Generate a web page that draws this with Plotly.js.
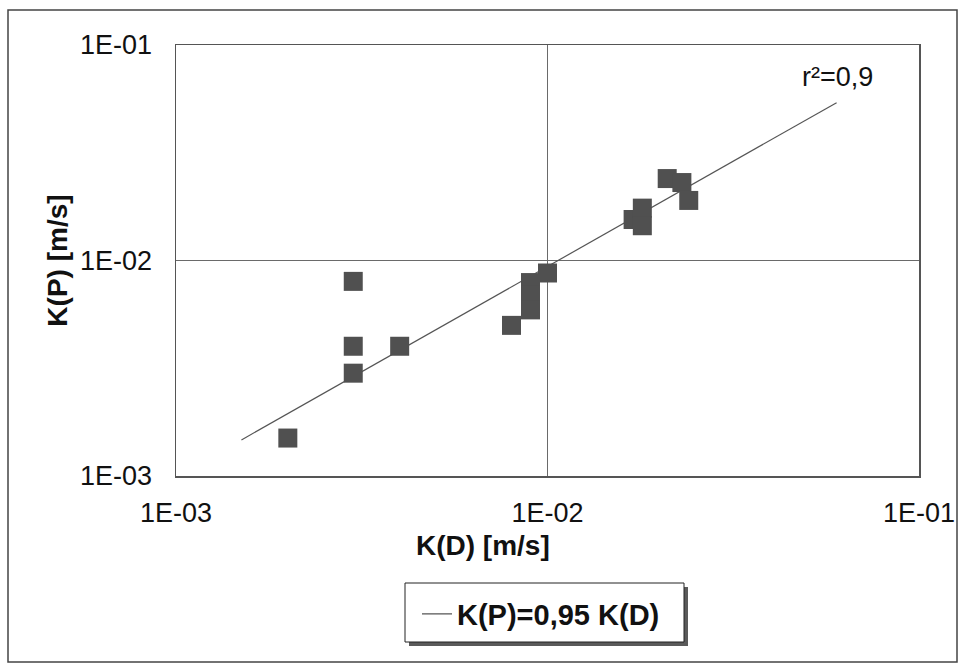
<!DOCTYPE html>
<html>
<head>
<meta charset="utf-8">
<script src="https://cdn.plot.ly/plotly-3.0.1.min.js"></script>
<style>
  html, body { margin: 0; padding: 0; background: #fff; }
  #chart { width: 968px; height: 664px; }
</style>
</head>
<body>
<div id="chart"></div>
<script>
// Measured data: K(D) vs K(P) [m/s]
var kD = [0.002, 0.003, 0.003, 0.003, 0.004, 0.008, 0.009, 0.009, 0.009, 0.010, 0.017, 0.018, 0.018, 0.021, 0.023, 0.024];
var kP = [0.0015, 0.008, 0.004, 0.003, 0.004, 0.005, 0.0079, 0.0069, 0.0059, 0.00875, 0.0155, 0.0175, 0.0145, 0.024, 0.023, 0.019];

// Fitted line end points
var lineX = [0.0015, 0.060];
var lineY = [0.00147, 0.054];
var lineName = 'K(P)=0,95 K(D)';

// Axis ticks
var tickVals = [0.001, 0.01, 0.1];
var tickText = ['1E-03', '1E-02', '1E-01'];
var xTitle = 'K(D) [m/s]';
var yTitle = 'K(P) [m/s]';
var r2Text = 'r²=0,9';
var r2Pos = [0.0605, 0.071];

// ---- layout helpers (pixel -> paper) ----
var L = 176, R = 919, T = 45, B = 476;
function px(x) { return (x - L) / (R - L); }
function py(y) { return (B - y) / (B - T); }

var FONT = '"Liberation Sans", Arial, sans-serif';

var traces = [
  {
    x: lineX, y: lineY, type: 'scatter', mode: 'lines',
    name: lineName, line: { color: '#555555', width: 1.2 },
    showlegend: true, hoverinfo: 'skip'
  },
  {
    x: kD, y: kP, type: 'scatter', mode: 'markers',
    name: 'data', showlegend: false,
    marker: { symbol: 'square', size: 19, color: '#505050', line: { width: 0 } }
  }
];

var axisCommon = {
  type: 'log',
  tickvals: tickVals,
  ticktext: tickText,
  showgrid: true,
  gridcolor: '#6a6a6a',
  gridwidth: 1,
  zeroline: false,
  showline: true,
  mirror: true,
  linecolor: '#555555',
  linewidth: 1.5,
  ticks: '',
  tickfont: { family: FONT, size: 27, color: '#111' }
};

var layout = {
  width: 968, height: 664,
  margin: { l: L, r: 968 - R, t: T, b: 664 - B },
  paper_bgcolor: '#ffffff',
  plot_bgcolor: '#ffffff',
  showlegend: true,
  xaxis: Object.assign({}, axisCommon, {
    range: [-3, -1],
    ticklabelstandoff: 12,
    title: { text: '' }
  }),
  yaxis: Object.assign({}, axisCommon, {
    range: [-3, -1],
    ticklabelstandoff: 17,
    title: { text: yTitle, font: { family: FONT, size: 28, color: '#111', weight: 'bold' }, standoff: 4 }
  }),
  legend: {
    x: px(417), y: py(614), xanchor: 'left', yanchor: 'middle',
    bgcolor: 'rgba(0,0,0,0)', borderwidth: 0,
    font: { family: FONT, size: 29, color: '#111', weight: 'bold' },
    itemclick: false
  },
  annotations: [
    {
      x: Math.log10(r2Pos[0]), y: Math.log10(r2Pos[1]), xref: 'x', yref: 'y',
      text: r2Text, showarrow: false, xanchor: 'center', yanchor: 'middle',
      font: { family: FONT, size: 27, color: '#111' }
    },
    {
      x: px(483), y: py(545), xref: 'paper', yref: 'paper',
      text: xTitle, showarrow: false, xanchor: 'center', yanchor: 'middle',
      font: { family: FONT, size: 28, color: '#111', weight: 'bold' }
    }
  ],
  shapes: [
    // outer chart border
    { type: 'rect', xref: 'paper', yref: 'paper', x0: px(8), x1: px(957), y0: py(662), y1: py(10),
      line: { color: '#444444', width: 1.5 }, fillcolor: 'rgba(0,0,0,0)', layer: 'below' },
    // legend shadow
    { type: 'rect', xref: 'paper', yref: 'paper', x0: px(409), x1: px(688), y0: py(646), y1: py(587),
      line: { width: 0 }, fillcolor: '#5a5a5a' },
    // legend box
    { type: 'rect', xref: 'paper', yref: 'paper', x0: px(405), x1: px(684), y0: py(642), y1: py(583),
      line: { color: '#222222', width: 1 }, fillcolor: '#ffffff' }
  ]
};

Plotly.newPlot('chart', traces, layout, { displayModeBar: false, staticPlot: true });
</script>
</body>
</html>
